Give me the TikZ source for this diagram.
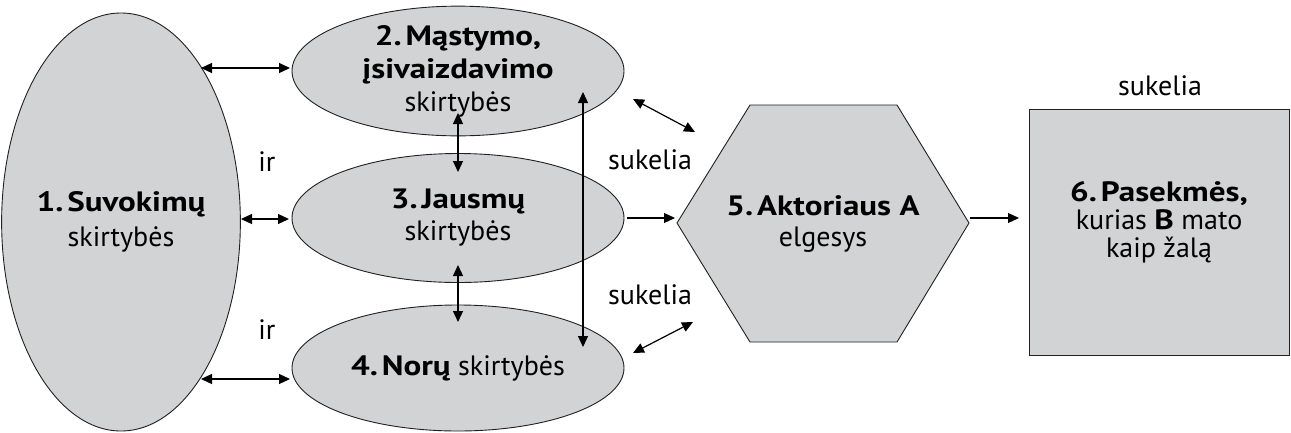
\documentclass[tikz,border=0pt]{standalone}
\usepackage{fontspec}
\setmainfont{PT Sans}[BoldFeatures={FakeStretch=1.18}]
\usetikzlibrary{arrows.meta,shapes.geometric}
\definecolor{boxgray}{RGB}{209,211,212}
\definecolor{linec}{RGB}{35,31,32}
\newcommand{\nsp}{\hspace{0.14em}}
\begin{document}
\begin{tikzpicture}[x=1pt,y=-1pt,
  ell/.style={ellipse, draw=linec, fill=boxgray, line width=0.9pt, inner sep=0pt, align=center, font=\fontsize{28}{33}\selectfont},
  shapefill/.style={draw=linec, fill=boxgray, line width=0.9pt},
  lbl/.style={font=\fontsize{28}{33}\selectfont, inner sep=0pt, align=center},
  dbl/.style={{Triangle[length=11pt,width=10pt]}-{Triangle[length=11pt,width=10pt]}, line width=1.2pt},
  sgl/.style={-{Triangle[length=11pt,width=10pt]}, line width=1.2pt},
]
\useasboundingbox (0,0) rectangle (1291,432);

% ellipses
\node[ell, minimum width=224pt, minimum height=418pt, font=\fontsize{28}{35}\selectfont] (e1) at (121,222) {\textbf{1.\nsp Suvokimų}\\skirtybės};
\node[ell, minimum width=332pt, minimum height=128pt] (e2) at (458,71) {\textbf{2.\nsp Mąstymo,}\\\textbf{įsivaizdavimo}\\skirtybės};
\node[ell, minimum width=332pt, minimum height=129pt, font=\fontsize{28}{32}\selectfont] (e3) at (458,218) {\textbf{3.\nsp Jausmų}\\skirtybės};
\node[ell, minimum width=332pt, minimum height=126pt] (e4) at (458,368) {\textbf{4.\nsp Norų} skirtybės};

% hexagon
\draw[shapefill] (677,223) -- (750,105) -- (897,105) -- (969,223) -- (897,342) -- (750,342) -- cycle;
\node[lbl, font=\fontsize{28}{31}\selectfont] (hx) at (823,224) {\textbf{5.\nsp Aktoriaus A}\\elgesys};

% rectangle
\node[shapefill, minimum width=260pt, minimum height=246pt, inner sep=0pt] (r) at (1159,232) {};
\node[lbl, font=\fontsize{28}{28}\selectfont] (rt) at (1159,222) {\textbf{6.\nsp Pasekmės,}\\kurias \textbf{B} mato\\kaip žalą};

% labels
\node[lbl] (s0) at (1160,86) {sukelia};
\node[lbl] (s1) at (650,160) {sukelia};
\node[lbl] (s2) at (650,295) {sukelia};
\node[lbl] (ir1) at (267,162) {ir};
\node[lbl] (ir2) at (267,330) {ir};

% connector ends
\coordinate (a1s) at (201,68);  \coordinate (a1e) at (290,68);
\coordinate (a2s) at (241,219); \coordinate (a2e) at (289,219);
\coordinate (a3s) at (201,379); \coordinate (a3e) at (290,379);
\coordinate (v1s) at (458,113); \coordinate (v1e) at (458,172);
\coordinate (v2s) at (458,265); \coordinate (v2e) at (458,322);
\coordinate (ls) at (583,92);   \coordinate (le) at (583,347);
\coordinate (du1) at (633,99);  \coordinate (du2) at (695,132);
\coordinate (dl1) at (633,353); \coordinate (dl2) at (693,322);
\coordinate (h1) at (627,218);  \coordinate (h2) at (675,218);
\coordinate (r1) at (970,218);  \coordinate (r2) at (1019,218);

\draw[dbl] (a1s) -- (a1e);
\draw[dbl] (a2s) -- (a2e);
\draw[dbl] (a3s) -- (a3e);
\draw[dbl] (v1s) -- (v1e);
\draw[dbl] (v2s) -- (v2e);
\draw[dbl] (ls) -- (le);
\draw[dbl] (du1) -- (du2);
\draw[dbl] (dl1) -- (dl2);
\draw[sgl] (h1) -- (h2);
\draw[sgl] (r1) -- (r2);
\end{tikzpicture}
\end{document}
